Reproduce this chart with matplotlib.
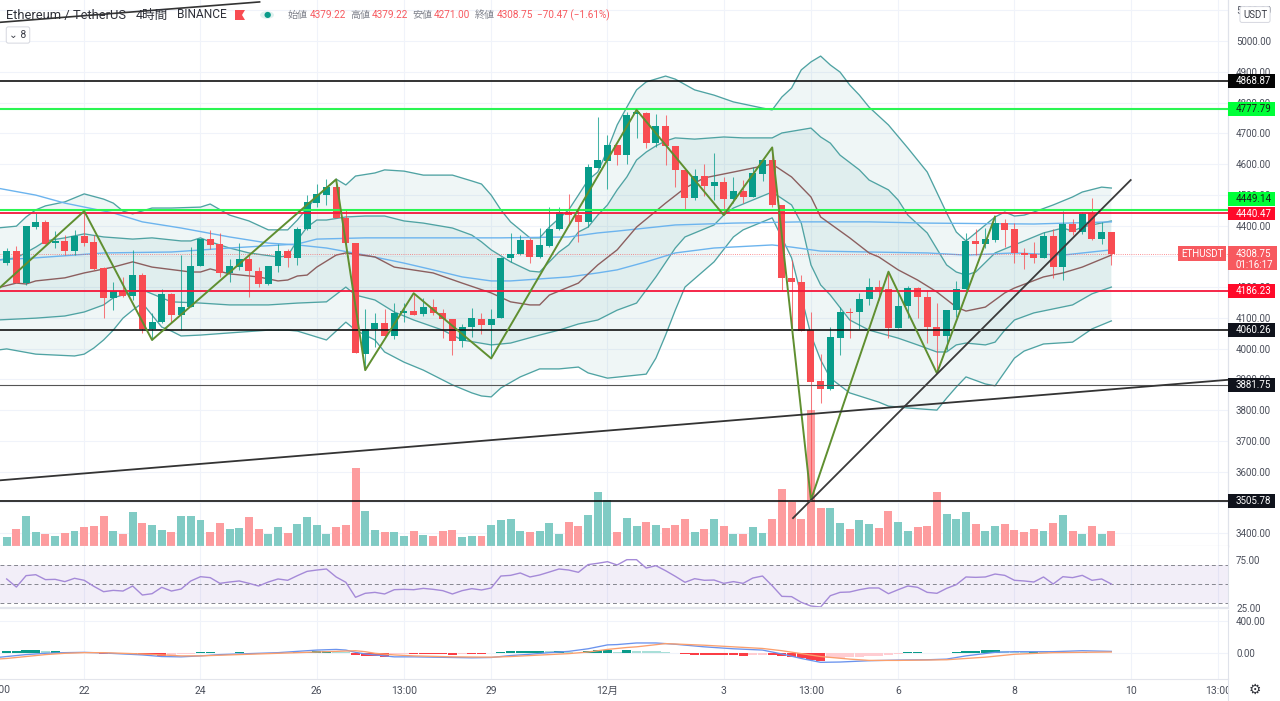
import numpy as np
import matplotlib
matplotlib.use('Agg')
import matplotlib.pyplot as plt
from matplotlib.patches import Polygon, Circle, Rectangle

plt.rcParams['font.family'] = ['Roboto', 'Noto Sans CJK JP', 'DejaVu Sans']

W, H = 1280, 701

# 4時間足 OHLC
opens = [4277,4318,4212,4396,4412,4342,4351,4318,4367,4346,4262,4163,4188,4171,4238,4063,4088,4177,4108,4136,
         4270,4357,4340,4245,4266,4292,4252,4210,4268,4317,4294,4388,4474,4500,4524,4426,4344,3983,4063,4082,
         4041,4115,4123,4112,4134,4115,4095,4025,4069,4095,4077,4100,4293,4307,4352,4297,4335,4388,4445,4434,
         4411,4588,4611,4662,4629,4763,4767,4670,4724,4659,4581,4488,4561,4529,4543,4487,4512,4492,4568,4613,
         4468,4230,4215,4060,3894,3868,4036,4119,4118,4162,4199,4194,4068,4138,4197,4169,4071,4042,4125,4193,
         4351,4340,4353,4409,4388,4312,4307,4293,4367,4266,4404,4380,4440,4357,4379]
highs = [4326,4333,4398,4442,4418,4383,4369,4386,4445,4369,4266,4218,4234,4320,4247,4117,4193,4182,4304,4329,
         4357,4386,4375,4292,4342,4310,4266,4268,4340,4323,4396,4499,4534,4550,4550,4451,4344,4128,4117,4128,
         4149,4147,4180,4163,4160,4128,4095,4080,4131,4117,4128,4299,4375,4369,4358,4391,4459,4459,4503,4456,
         4600,4752,4694,4662,4770,4776,4770,4763,4759,4659,4581,4585,4600,4635,4557,4559,4548,4591,4613,4654,
         4468,4288,4239,4120,3982,4069,4136,4131,4182,4230,4223,4250,4191,4204,4201,4191,4149,4127,4220,4375,
         4388,4391,4429,4420,4407,4326,4348,4380,4388,4448,4420,4445,4488,4413,4379]
lows = [4272,4212,4207,4388,4340,4326,4304,4304,4333,4255,4098,4125,4169,4158,4052,4028,4084,4088,4060,4134,
        4268,4324,4234,4218,4255,4169,4199,4207,4250,4264,4272,4386,4461,4468,4423,4340,3987,3930,4006,4039,
        4030,4088,4109,4107,4109,4035,3979,4006,4037,4047,3968,4100,4283,4305,4277,4295,4329,4386,4402,4348,
        4394,4588,4519,4597,4600,4684,4651,4656,4597,4526,4451,4483,4496,4483,4434,4472,4472,4492,4546,4459,
        4191,4033,4057,3508,3824,3865,3978,4036,4064,4142,4158,4033,4066,4098,4101,4017,3920,3995,4104,4190,
        4304,4326,4348,4331,4279,4258,4277,4293,4228,4223,4369,4372,4353,4340,4271]
closes = [4318,4212,4398,4412,4340,4349,4318,4366,4344,4258,4163,4188,4171,4238,4063,4088,4177,4108,4136,4268,
          4357,4338,4247,4268,4292,4252,4210,4268,4317,4294,4388,4475,4503,4526,4426,4344,3987,4063,4082,4041,
          4115,4123,4110,4134,4117,4095,4025,4069,4098,4077,4097,4293,4307,4352,4297,4336,4388,4445,4434,4413,
          4589,4613,4662,4629,4759,4770,4670,4724,4659,4581,4491,4561,4529,4543,4487,4512,4494,4570,4613,4467,
          4228,4217,4057,3893,3868,4037,4119,4117,4162,4199,4191,4068,4140,4197,4167,4071,4042,4127,4193,4351,
          4340,4355,4409,4386,4312,4305,4293,4367,4266,4404,4380,4438,4357,4380,4308.75]
volumes = [27,50,88,41,36,28,38,45,57,60,88,43,36,100,69,62,48,41,88,88,78,40,69,50,53,86,50,36,57,38,65,86,62,36,57,62,
           232,105,48,41,41,28,45,31,28,43,48,26,28,29,62,76,79,45,40,45,67,36,72,60,93,160,136,40,
           84,58,72,62,53,62,81,41,50,79,60,36,36,57,38,81,169,132,81,408,112,112,69,50,76,65,52,103,71,43,57,60,160,
           95,79,100,65,45,60,65,48,41,50,43,67,91,45,36,60,36,45]

# ボリンジャーバンド / MA (candle index, price)
upper_i = [-1,1,2,3,4,6,8,10,11,12,13,15,17,20,21,23,25,27,29,30,31,32,34,35,36,38,39,41,43,46,48,49,50,51,52,53,54,55,56,58,59,60,61,62,63,64,65,66,68,69,71,73,75,78,79,80,81,82,83,84,85,86,87,88,89,91,93,95,97,98,99,100,101,102,103,104,105,106,108,109,110,111,113,114]
upper_p = [4392,4398,4428,4451,4464,4477,4503,4486,4473,4447,4438,4457,4457,4460,4470,4434,4415,4386,4386,4418,4457,4493,4551,4532,4561,4571,4581,4577,4564,4564,4545,4535,4499,4451,4412,4386,4360,4360,4395,4451,4499,4548,4574,4646,4727,4785,4841,4867,4886,4876,4841,4824,4802,4782,4776,4818,4847,4906,4932,4951,4922,4899,4857,4824,4785,4727,4652,4574,4441,4379,4350,4376,4402,4428,4444,4431,4434,4444,4467,4480,4493,4509,4525,4522]
inner_up_i = [-1,1,3,4,6,8,10,13,15,18,19,20,21,23,25,28,29,30,31,32,33,35,37,39,41,43,46,48,49,50,52,54,55,56,57,58,59,60,61,62,63,64,65,66,67,68,69,71,74,76,79,80,83,84,85,86,88,89,91,92,93,95,97,98,99,100,102,104,106,107,109,110,111,112,114]
inner_up_p = [4288,4295,4330,4350,4360,4373,4363,4356,4360,4350,4350,4360,4347,4327,4311,4298,4301,4353,4395,4418,4418,4428,4431,4431,4415,4408,4392,4369,4347,4321,4282,4252,4249,4282,4314,4337,4379,4395,4434,4467,4516,4558,4613,4639,4659,4675,4685,4681,4688,4685,4685,4701,4717,4688,4668,4629,4581,4548,4516,4483,4434,4376,4272,4249,4239,4249,4311,4337,4363,4376,4392,4382,4395,4402,4415]
inner_lo_i = [-1,3,6,8,10,11,13,14,15,17,20,23,27,30,33,35,36,38,40,42,45,47,50,52,55,57,59,61,63,65,67,69,70,73,74,75,79,81,82,83,84,85,87,89,92,94,96,97,98,99,101,102,103,104,106,110,112,114]
inner_lo_p = [4093,4099,4106,4119,4142,4165,4184,4191,4178,4152,4148,4142,4142,4148,4152,4200,4174,4158,4119,4093,4060,4028,4012,4018,4044,4060,4080,4093,4125,4148,4233,4327,4363,4402,4434,4457,4509,4467,4408,4272,4207,4174,4093,4060,4034,4012,3989,3989,4012,4018,4012,4021,4060,4093,4116,4142,4178,4200]
lower_i = [-1,0,3,5,7,8,9,10,11,12,13,14,16,17,18,20,23,27,29,30,33,34,35,36,38,39,41,43,46,48,49,50,51,53,55,57,59,60,62,66,67,68,69,70,73,75,76,79,80,81,82,83,84,85,87,90,91,93,96,97,98,99,101,102,103,104,105,107,110,112,114]
lower_p = [3995,3999,3982,3979,3976,3982,4002,4028,4060,4099,4125,4148,4070,4057,4041,4044,4051,4060,4060,4057,4028,4057,4086,4060,4028,3989,3956,3930,3882,3856,3846,3843,3872,3908,3934,3934,3940,3921,3904,3917,3969,4044,4125,4200,4282,4363,4386,4425,4360,4295,4171,4044,3963,3904,3856,3826,3813,3807,3800,3839,3875,3908,3885,3879,3924,3969,3992,4015,4021,4064,4090]
basis_i = [-1,1,2,3,6,8,11,13,15,19,20,21,23,26,28,29,30,31,32,34,35,38,40,44,47,50,52,54,55,56,59,61,63,65,68,70,72,75,77,79,81,83,84,87,89,90,92,94,96,98,99,101,103,104,107,109,111,114]
basis_p = [4197,4213,4210,4220,4230,4246,4265,4282,4265,4249,4249,4259,4243,4233,4220,4223,4236,4239,4265,4304,4311,4298,4265,4246,4213,4181,4152,4142,4142,4174,4213,4272,4321,4395,4473,4522,4555,4574,4587,4600,4558,4493,4428,4360,4311,4298,4256,4223,4184,4135,4122,4135,4181,4197,4233,4246,4265,4304]
ma_a_i = [-1,3,6,11,14,18,23,27,30,33,37,41,44,47,50,52,58,61,63,66,69,73,79,81,84,89,95,99,104,109,114]
ma_a_p = [4522,4499,4473,4441,4412,4392,4363,4343,4337,4327,4304,4278,4256,4233,4220,4220,4233,4246,4256,4282,4311,4327,4337,4330,4317,4314,4311,4304,4311,4304,4321]
ma_b_i = [-1,3,10,17,23,30,32,37,44,51,58,61,63,69,75,82,89,95,106,114]
ma_b_p = [4288,4295,4311,4314,4327,4340,4356,4360,4360,4360,4363,4376,4382,4402,4408,4412,4412,4408,4405,4412]

zigzag_i = [-1,8,15,34,37,42,50,65,74,79,83,91,96,102]
zigzag_p = [4190,4447,4028,4550,3930,4180,3968,4776,4434,4654,3508,4250,3920,4429]

# 水平線
level_black = [4868.87, 4060.26, 3505.78]
level_green = [4777.79, 4449.14]
level_red = [4440.47, 4186.23]
level_thin = [3881.75]
last_price = 4308.75

# トレンドライン
trend_a_i, trend_a_p = [-1, 127], [3571, 3901]
trend_b_i, trend_b_p = [81.15, 116], [3449, 4548]
trend_c_i, trend_c_p = [-1, 26.1], [5060, 5127]

rsi = [55.3,46.8,58.8,59.8,54.6,54.9,52.5,56,53.9,47.5,41.9,43.3,42.6,47.9,38.4,39.8,46.5,42.6,44.7,53.2,
       57.7,56.7,50.7,52.1,53.2,50.7,47.9,52.1,55.3,53.9,58.8,63.3,64.7,65.8,57.4,51.8,36,40.2,41.2,39.5,
       44,44.4,44,45.4,44.4,43,39.5,43,45.1,43.7,45.8,58.4,59.1,61.6,57.4,59.5,62.6,65.8,64.7,62.3,
       70.4,71.8,73.5,70,75.6,75.6,66.8,69.3,64,58.1,51.8,55.6,53.9,54.2,50.7,52.5,50.7,56.3,58.4,48.2,
       37,36.7,30.7,26.8,25.8,37.7,41.2,41.6,44,45.8,45.8,39.8,44,47.9,46.5,41.2,40.2,45.4,49.3,57.4,
       57,57.4,60.5,59.1,53.9,53.2,52.1,57.4,50,57.7,56.7,59.1,53.9,55.3,50]

macd_hist = [32,32,36,44,24,24,12,8,4,0,-4,-4,-4,-8,-16,-24,-32,-24,-12,-8,
             12,12,4,4,12,8,4,4,8,8,12,20,24,24,20,12,-20,-28,-36,-44,
             -12,-8,-8,-8,-8,-12,-24,-8,-8,-8,4,12,24,32,32,32,28,32,12,8,
             32,40,40,20,44,32,28,24,20,4,-12,-16,-16,-20,-20,-20,-28,-20,-16,-24,
             -36,-48,-56,-80,-96,-60,-56,-52,-44,-32,-28,-20,-12,12,12,4,4,8,16,24,
             32,40,40,28,20,16,16,12,8,8,4,12,8,4,4]
macd_i = [-1,0,2,4,6,8,10,12,14,16,18,20,22,24,26,28,30,32,34,35,36,37,38,40,42,44,46,48,50,52,54,56,58,60,62,63,65,67,69,72,75,78,80,82,84,86,89,92,95,97,99,102,104,108,111,114]
macd_v = [-52,-40,-16,0,8,12,4,-8,-20,-40,-44,-32,-16,-8,0,8,24,40,48,40,12,-8,-20,-44,-44,-48,-52,-56,-52,-28,-12,8,24,56,104,108,128,128,112,80,56,40,-8,-64,-112,-108,-92,-84,-80,-72,-32,12,20,20,32,24]
signal_i = [-1,0,2,4,6,8,10,12,14,16,18,20,22,24,26,28,30,32,34,36,37,38,40,42,46,50,52,54,56,58,60,62,64,65,68,72,78,80,84,87,89,92,97,101,104,108,114]
signal_v = [-72,-64,-40,-16,0,8,8,0,-8,-20,-32,-32,-24,-16,-8,0,8,16,24,32,20,0,-20,-32,-44,-48,-40,-28,-16,-4,16,48,72,80,120,100,60,32,-40,-72,-88,-88,-80,-48,-12,8,16]

tick_idx = [8, 20, 32, 41, 50, 62, 74, 83, 92, 104, 116, 125]
tick_txt = ['22', '24', '26', '13:00', '29', '12月', '3', '13:00', '6', '8', '10', '13:00']
price_ticks = list(range(3400, 5200, 100))
rsi_ticks = [25, 75]
macd_ticks = [0, 400]

GREEN, RED = '#089c8a', '#f84c52'
V_GREEN, V_RED = '#80cbc4', '#fd9c9e'
GRID = '#f0f3fa'
BAND = '#4fa3a3'
TXT = '#4a4e5a'


def pane(top, bottom):
    return [0, 1 - bottom / H, 1228 / W, (bottom - top) / H]


def style(a):
    a.set_xlim(-0.691, 126.04)
    a.tick_params(length=0, labelsize=7, labelcolor=TXT)
    for s in ('top', 'left'):
        a.spines[s].set_visible(False)
    a.spines['right'].set_color('#dfe2ea')
    a.spines['bottom'].set_color('#e3e5ec')
    a.yaxis.tick_right()
    a.tick_params(axis='y', pad=5.8)


fig = plt.figure(figsize=(W / 100, H / 100), dpi=100, facecolor='white')

x = np.arange(len(closes))
opens, highs, lows, closes = map(np.array, (opens, highs, lows, closes))
up = closes >= opens

# 出来高 (一番下)
vol = fig.add_axes(pane(0, 545.5))
style(vol)
vol.set_ylim(0, 545.5 * 3)
vol.set_xticks(tick_idx)
vol.set_yticks([])
vol.tick_params(labelbottom=False)
vol.grid(axis='x', color=GRID, lw=0.8)
vol.set_axisbelow(True)

# 価格
ax = fig.add_axes(pane(0, 545.5), sharex=vol)
style(ax)
ax.patch.set_visible(False)
ax.set_ylim(5133.3 - 3.251 * 545.5, 5133.3)
ax.set_yticks(price_ticks, [f'{p:.2f}' for p in price_ticks])
ax.tick_params(labelbottom=False)
for p in price_ticks:
    vol.plot([0, 1], [p, p], color=GRID, lw=0.8, transform=ax.get_yaxis_transform(), zorder=0)
vol.set_xlim(-0.691, 126.04)
vol.set_ylim(0, 545.5 * 3)
vol.bar(x, volumes, width=0.82, color=[V_GREEN if u else V_RED for u in up], zorder=1)

# バンドの塗り
ax.fill(upper_i + lower_i[::-1], upper_p + lower_p[::-1], color=BAND, alpha=0.09, lw=0, zorder=1)
ax.fill(inner_up_i + inner_lo_i[::-1], inner_up_p + inner_lo_p[::-1], color=BAND, alpha=0.09, lw=0, zorder=1)
for xs, ys in ((upper_i, upper_p), (lower_i, lower_p), (inner_up_i, inner_up_p), (inner_lo_i, inner_lo_p)):
    ax.plot(xs, ys, color=BAND, lw=0.95, zorder=2)
ax.plot(ma_a_i, ma_a_p, color='#6cb4ee', lw=1.0, zorder=2)
ax.plot(ma_b_i, ma_b_p, color='#6cb4ee', lw=1.0, zorder=2)
ax.plot(basis_i, basis_p, color='#8c5f5f', lw=1.0, zorder=2)

# ローソク足
colors = [GREEN if u else RED for u in up]
ax.vlines(x, lows, highs, colors=colors, lw=0.75, alpha=0.75, zorder=3)
ax.bar(x, np.abs(closes - opens), bottom=np.minimum(opens, closes), width=0.72, color=colors, zorder=3.1)

ax.axhline(last_price, color=RED, lw=0.6, ls=(0, (1, 1.6)), alpha=0.8, zorder=3)
for p in level_black:
    ax.axhline(p, color='#111111', lw=1.2, zorder=4)
for p in level_green:
    ax.axhline(p, color='#2bf552', lw=1.5, zorder=4)
for p in level_red:
    ax.axhline(p, color='#f5163a', lw=1.3, zorder=4.1)
for p in level_thin:
    ax.axhline(p, color='#555555', lw=0.8, zorder=4)

ax.plot(zigzag_i, zigzag_p, color='#5f8f30', lw=1.4, zorder=5)
ax.plot(trend_a_i, trend_a_p, color='#333333', lw=1.3, zorder=5)
ax.plot(trend_b_i, trend_b_p, color='#3a3a3a', lw=1.3, zorder=5)
ax.plot(trend_c_i, trend_c_p, color='#333333', lw=1.2, zorder=1.5)

ax.set_xticks(tick_idx)
ax.grid(False)

blend = ax.get_yaxis_transform()


def price_box(p, txt, bg, fg, label_y=None):
    # 価格軸のラベル、重なる時は label_y にずらす
    y = p if label_y is None else label_y
    ax.add_patch(Rectangle((1.0, y - 22.5), 47 / 1228, 45, transform=blend, fc=bg, ec='none', clip_on=False, zorder=19))
    ax.text(1236 / 1228, y, txt, transform=blend, ha='left', va='center', fontsize=7, color=fg,
            clip_on=False, zorder=20)


price_box(4868.87, '4868.87', '#050505', 'white')
price_box(4777.79, '4777.79', '#00ff38', '#1a1a1a')
price_box(4449.14, '4449.14', '#00ff38', '#1a1a1a', label_y=4485)
price_box(4440.47, '4440.47', '#ff0a2a', 'white', label_y=4439)
price_box(4186.23, '4186.23', '#ff0a2a', 'white')
price_box(4060.26, '4060.26', '#10131c', 'white')
price_box(3881.75, '3881.75', '#10131c', 'white')
price_box(3505.78, '3505.78', '#10131c', 'white')

# 現在値ラベル
ax.add_patch(Rectangle((1.0, 4255.5), 49 / 1228, 78, transform=blend, fc='#f7595f', ec='none', clip_on=False, zorder=19))
ax.text(1236 / 1228, last_price, f'{last_price:.2f}', transform=blend, ha='left', va='center',
        fontsize=7, color='white', clip_on=False, zorder=21)
ax.text(1236 / 1228, last_price - 36, '01:16:17', transform=blend, ha='left', va='center',
        fontsize=7, color='white', clip_on=False, zorder=21)
ax.add_patch(Rectangle((1178 / 1228, 4285), 48 / 1228, 48.5, transform=blend, fc='#f7595f', ec='none', zorder=19))
ax.text(1202 / 1228, last_price, 'ETHUSDT', transform=blend, ha='center', va='center',
        fontsize=7, color='white', zorder=21)

# RSI
ax_r = fig.add_axes(pane(546, 608), sharex=vol)
style(ax_r)
ax_r.set_ylim(50 - 24 / 0.95, 50 + 38 / 0.95)
ax_r.axhspan(30, 70, color='#9575cd', alpha=0.12, lw=0)
for lv in (30, 50, 70):
    ax_r.axhline(lv, color='#85868f', lw=0.7, ls=(0, (4, 3)))
ax_r.plot(x, rsi, color='#a58ad8', lw=1.0)
ax_r.set_yticks(rsi_ticks, [f'{v:.2f}' for v in rsi_ticks])
ax_r.set_xticks(tick_idx)
ax_r.grid(axis='x', color=GRID, lw=0.8)
ax_r.set_axisbelow(True)
ax_r.tick_params(labelbottom=False)
ax_r.spines['bottom'].set_linewidth(1.6)

# MACD
ax_m = fig.add_axes(pane(610, 679), sharex=vol)
style(ax_m)
ax_m.set_ylim(-25.7 / 0.08075, 43.3 / 0.08075)
hist = np.array(macd_hist)
prev = np.r_[hist[0], hist[:-1]]
hist_colors = []
for h, q in zip(hist, prev):
    if h >= 0:
        hist_colors.append('#0a9b8a' if h >= q else '#a9dfd8')
    else:
        hist_colors.append('#fb3d45' if h <= q else '#ffcdd2')
ax_m.bar(x, hist, width=0.95, color=hist_colors, zorder=2)
ax_m.plot(macd_i, macd_v, color='#6a93ee', lw=0.95, zorder=3)
ax_m.plot(signal_i, signal_v, color='#fb9f6d', lw=0.95, zorder=3)
ax_m.set_yticks(macd_ticks, [f'{v:.2f}' for v in macd_ticks])
ax_m.set_xticks(tick_idx, tick_txt)
ax_m.grid(color=GRID, lw=0.8)
ax_m.set_axisbelow(True)
ax_m.tick_params(axis='x', pad=5, labelsize=7.5)
ax_m.text(-1, -390, '13:00', ha='center', va='top', fontsize=7.5, color=TXT, clip_on=False)

# 右下は価格軸なのでラベルを隠す
fig.add_artist(Rectangle((1228 / W, 0), 52 / W, 21 / H, transform=fig.transFigure, fc='white', ec='none', zorder=5))
fig.add_artist(plt.Line2D([1228 / W, 1228 / W], [0, 22 / H], color='#dfe2ea', lw=0.8, zorder=6))
fig.text(1255 / W, 1 - 689.5 / H, '⚙', fontsize=10, ha='center', va='center', color='#30323a', family='DejaVu Sans', zorder=6)


def label(px, py, txt, color=TXT, size=8.2, **kw):
    fig.text(px / W, 1 - py / H, txt, color=color, fontsize=size, va='center', ha='left', zorder=10, **kw)


# ヘッダー
label(6, 15, 'Ethereum / TetherUS', color='#2e3039', size=9.3)
label(136, 15, '4時間', color='#2e3039', size=9.1)
label(177, 15, 'BINANCE', color='#2e3039', size=8.6)
fig.add_artist(Polygon([(235 / W, 1 - 10 / H), (245 / W, 1 - 10 / H), (242 / W, 1 - 15 / H), (245 / W, 1 - 20 / H), (235 / W, 1 - 20 / H)],
                       transform=fig.transFigure, fc='#f84c52', ec='none', zorder=10))
fig.add_artist(Circle((267 / W, 1 - 15 / H), 7 / W, transform=fig.transFigure, fc='#dff1ef', ec='none', zorder=10))
fig.text(267 / W, 1 - 15 / H, '●', fontsize=6, ha='center', va='center', color='#0a9b8a', family='DejaVu Sans', zorder=11)

for px, name, val in ((288, '始値', '4379.22'), (350, '高値', '4379.22'), (412, '安値', '4271.00'), (475, '終値', '4308.75')):
    label(px, 15, name, color='#80838d', size=7.2)
    label(px + 22, 15, val, color='#f7595f', size=7.2)
label(537, 15, '−70.47 (−1.61%)', color='#f7595f', size=7.2)

fig.text(18 / W, 1 - 35 / H, '⌄ 8', fontsize=7.5, ha='center', va='center', color='#3c3e48', zorder=12,
         bbox=dict(boxstyle='round,pad=0.3,rounding_size=0.2', fc='white', ec='#d5d7df', lw=0.7))
fig.text(1255 / W, 1 - 14.5 / H, 'USDT', fontsize=7, ha='center', va='center', color='#3c3e48', zorder=12,
         bbox=dict(boxstyle='round,pad=0.3,rounding_size=0.2', fc='white', ec='#d5d7df', lw=0.7))

fig.savefig('out.png', dpi=100, facecolor='white')
